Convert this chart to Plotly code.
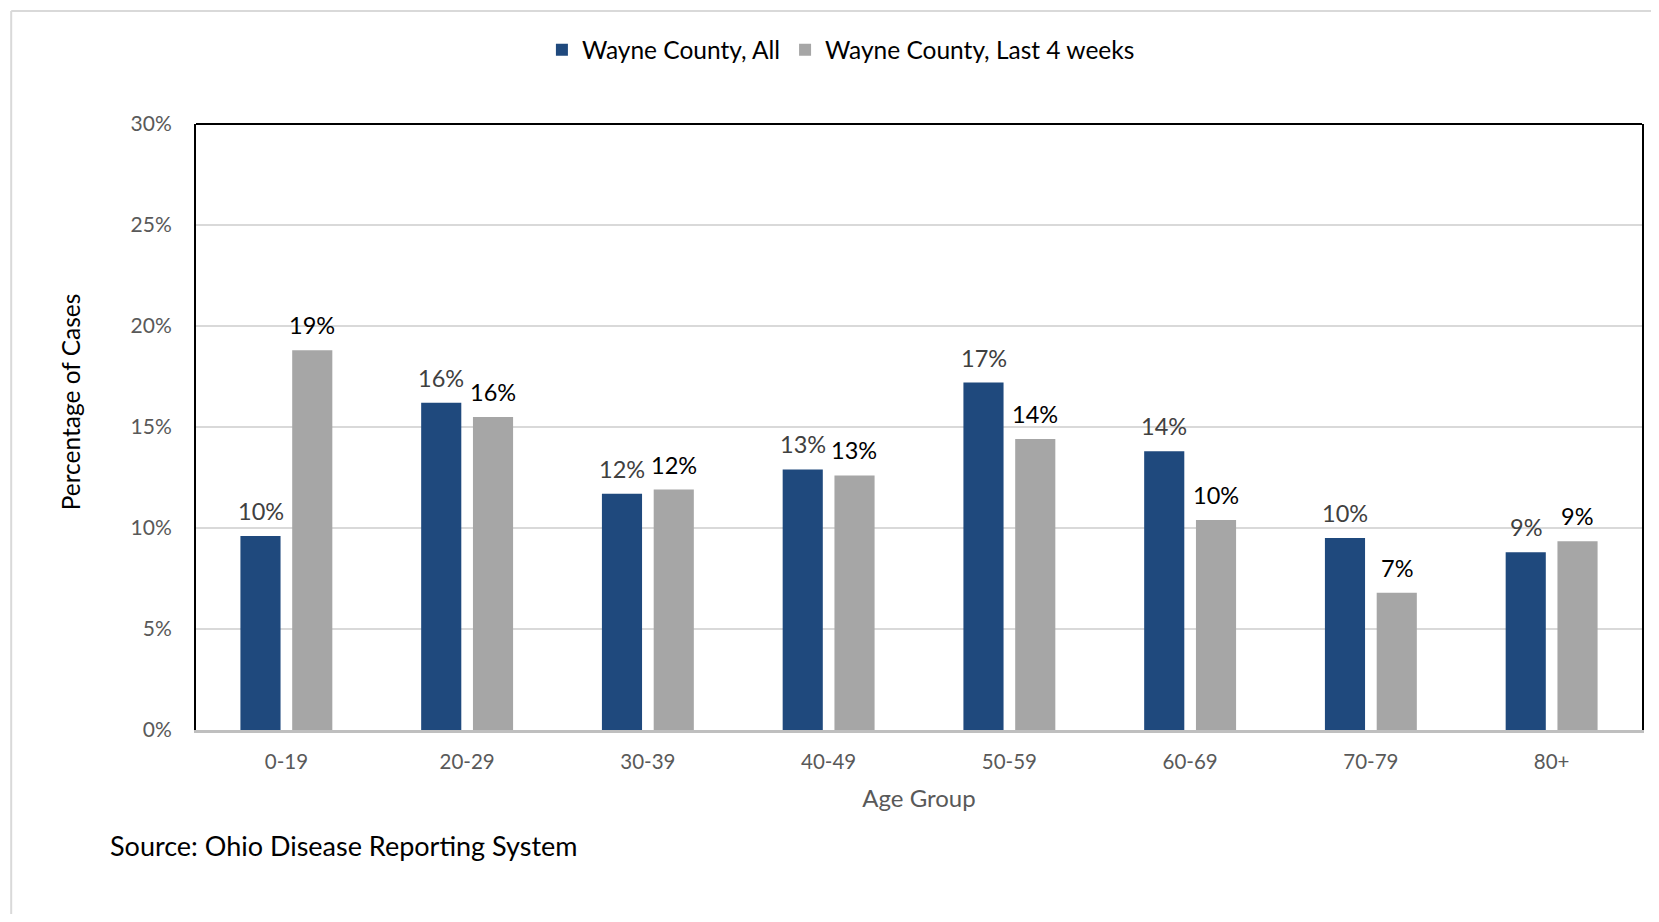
import plotly.graph_objects as go

age_groups = ["0-19", "20-29", "30-39", "40-49", "50-59", "60-69", "70-79", "80+"]
wayne_all = [9.6, 16.2, 11.7, 12.9, 17.2, 13.8, 9.5, 8.8]
wayne_last4 = [18.8, 15.5, 11.9, 12.6, 14.4, 10.4, 6.8, 9.35]
y_ticks = [0, 5, 10, 15, 20, 25, 30]
y_tick_labels = [str(t) + "%" for t in y_ticks]

FONT = "Lato"
BLUE = "#1F497D"
GREY = "#A6A6A6"

fig = go.Figure()
fig.add_bar(x=age_groups, y=wayne_all, name="Wayne County, All",
            marker=dict(color=BLUE, line=dict(width=0)))
fig.add_bar(x=age_groups, y=wayne_last4, name="Wayne County, Last 4 weeks",
            marker=dict(color=GREY, line=dict(width=0)))

# data labels, offset above each bar like the Excel original
annotations = []
for i, grp in enumerate(age_groups):
    for val, shift, col in [(wayne_all[i], -0.5, "#404040"), (wayne_last4[i], 0.5, "#000000")]:
        annotations.append(dict(
            x=i + shift * 0.286, y=val, xref="x", yref="y",
            text="%d%%" % round(val), showarrow=False,
            yanchor="bottom", yshift=9,
            font=dict(family=FONT, size=23.5, color=col)))

annotations.append(dict(
    x=-0.087, y=0.541, xref="paper", yref="paper", xanchor="center", yanchor="middle",
    text="Percentage of Cases", textangle=-90, showarrow=False,
    font=dict(family=FONT, size=24.5, color="#000000")))
annotations.append(dict(
    x=-0.0608, y=-0.191, xref="paper", yref="paper", xanchor="left", yanchor="middle",
    text="Source: Ohio Disease Reporting System", showarrow=False,
    font=dict(family=FONT, size=27, color="#000000")))

shapes = [
    # top edge of plot frame
    dict(type="line", xref="paper", yref="paper", x0=0, x1=1, y0=1, y1=1,
         line=dict(color="#000000", width=2)),
    # outer chart border (left and top visible)
    dict(type="line", xref="paper", yref="paper", x0=-0.1278, x1=-0.1278, y0=-0.5, y1=1.1865,
         line=dict(color="#D9D9D9", width=2)),
    dict(type="line", xref="paper", yref="paper", x0=-0.1278, x1=1.1, y0=1.1865, y1=1.1865,
         line=dict(color="#D9D9D9", width=2)),
]

# page body has an 8px margin, so the figure is sized to sit inside it
fig.update_layout(
    width=1643, height=906,
    paper_bgcolor="white", plot_bgcolor="white",
    margin=dict(l=188, r=7, t=116, b=184),
    barmode="group", bargap=0.427, bargroupgap=0.225,
    font=dict(family=FONT, size=21, color="#595959"),
    legend=dict(orientation="h", x=0.446, xanchor="center", y=1.1225, yanchor="middle",
                font=dict(family=FONT, size=24.5, color="#000000"),
                itemwidth=30, traceorder="normal"),
    annotations=annotations,
    shapes=shapes,
)
fig.update_xaxes(showline=True, linecolor="#BFBFBF", linewidth=2.5, ticks="",
                 ticklabelstandoff=12, tickfont=dict(size=20.5, color="#595959"),
                 title=dict(text="Age Group", standoff=18,
                            font=dict(family=FONT, size=24, color="#595959")))
fig.update_yaxes(range=[0, 30], tickvals=y_ticks, ticktext=y_tick_labels,
                 showgrid=True, gridcolor="#D9D9D9", gridwidth=1.5,
                 showline=True, linecolor="#000000", linewidth=2, mirror=True,
                 zeroline=False, ticks="", ticklabelstandoff=18,
                 tickfont=dict(size=21, color="#595959"))

fig.write_html("out.html")
